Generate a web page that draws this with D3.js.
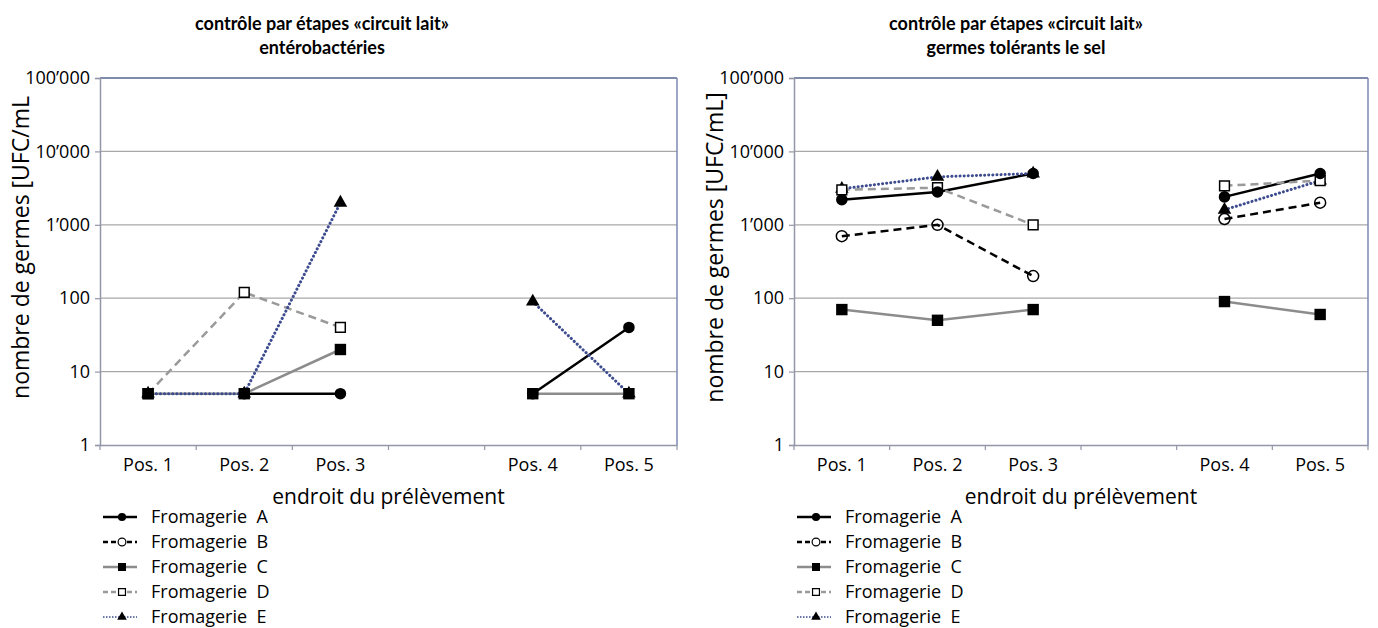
<!DOCTYPE html>
<html>
<head>
<meta charset="utf-8">
<script src="https://cdn.jsdelivr.net/npm/d3@7"></script>
<style>
  body { margin: 0; background: #fff; }
  svg text { font-family: "Open Sans", "Noto Sans", sans-serif; fill: #000; }
</style>
</head>
<body>
<svg id="chart" width="1378" height="628"></svg>
<script>
// categories (4th slot is the empty gap between Pos. 3 and Pos. 4)
const categories = ["Pos. 1", "Pos. 2", "Pos. 3", "", "Pos. 4", "Pos. 5"];
const seriesNames = ["Fromagerie  A", "Fromagerie  B", "Fromagerie  C", "Fromagerie  D", "Fromagerie  E"];
const yTicks = [1, 10, 100, 1000, 10000, 100000];

// entérobactéries [UFC/mL]
const enteroA = [null, 5, 5, null, 5, 40];
const enteroB = [null, null, null, null, null, null];
const enteroC = [5, 5, 20, null, 5, 5];
const enteroD = [5, 120, 40, null, null, null];
const enteroE = [5, 5, 2000, null, 90, 5];

// germes tolérants le sel [UFC/mL]
const selA = [2200, 2800, 5000, null, 2400, 5000];
const selB = [700, 1000, 200, null, 1200, 2000];
const selC = [70, 50, 70, null, 90, 60];
const selD = [3000, 3200, 1000, null, 3400, 4000];
const selE = [3100, 4500, 5000, null, 1600, 4000];

const fmt = d3.formatLocale({decimal: ".", thousands: "\u2019", grouping: [3], currency: ["", ""]}).format(",");

// line + marker style per series
const styles = [
  {stroke: "#000", dash: null, width: 2.5, cap: "butt", symbol: d3.symbolCircle, size: 105, fill: "#000", mstroke: "none"},
  {stroke: "#000", dash: "8,5", width: 2.5, cap: "butt", symbol: d3.symbolCircle, size: 95, fill: "none", mstroke: "#000"},
  {stroke: "#8c8c8c", dash: null, width: 2.5, cap: "butt", symbol: d3.symbolSquare, size: 130, fill: "#000", mstroke: "none"},
  {stroke: "#9a9a9a", dash: "8,5", width: 2.5, cap: "butt", symbol: d3.symbolSquare, size: 95, fill: "#fff", mstroke: "#000"},
  {stroke: "#3d4b8f", dash: "0.1,4", width: 3, cap: "round", symbol: d3.symbolTriangle, size: 80, fill: "#000", mstroke: "none"}
];

const svg = d3.select("#chart");

function drawPanel(opts) {
  const top = 78, bottom = 445;
  const x = d3.scaleBand().domain(d3.range(categories.length)).range([opts.left, opts.right]);
  const y = d3.scaleLog().domain([1, 100000]).range([bottom, top]);
  const g = svg.append("g");

  // gridlines
  g.selectAll("line.grid")
    .data(yTicks.slice(1, -1))
    .enter().append("line")
      .attr("x1", opts.left).attr("x2", opts.right)
      .attr("y1", d => y(d)).attr("y2", d => y(d))
      .attr("stroke", "#a8a8a8").attr("stroke-width", 1.3);

  // plot border top / right
  g.append("line").attr("x1", opts.left).attr("x2", opts.right).attr("y1", top).attr("y2", top)
    .attr("stroke", "#56648f").attr("stroke-width", 1.5);
  g.append("line").attr("x1", opts.right).attr("x2", opts.right).attr("y1", top).attr("y2", bottom)
    .attr("stroke", "#7d88b3").attr("stroke-width", 1.5);

  // y axis
  const yAxis = d3.axisLeft(y).tickValues(yTicks).tickFormat(fmt).tickSize(5).tickPadding(5);
  const yG = g.append("g").attr("transform", "translate(" + opts.left + ",0)").call(yAxis);
  yG.select(".domain").attr("stroke", "#9296a8").attr("stroke-width", 1.5);
  yG.selectAll(".tick line").attr("stroke", "#9296a8").attr("stroke-width", 1.2);
  yG.selectAll("text").style("font-size", "18px").style("font-family", "'Open Sans', sans-serif").attr("fill", "#000");

  // x axis
  const xAxis = d3.axisBottom(x).tickSize(0).tickFormat(i => categories[i]).tickPadding(13);
  const xG = g.append("g").attr("transform", "translate(0," + bottom + ")").call(xAxis);
  xG.select(".domain").attr("stroke", "#9296a8").attr("stroke-width", 1.5);
  xG.selectAll("text").style("font-size", "18px").style("font-family", "'Open Sans', sans-serif").attr("fill", "#000");
  xG.selectAll("line.sep")
    .data(d3.range(categories.length + 1))
    .enter().append("line")
      .attr("x1", i => opts.left + i * x.step()).attr("x2", i => opts.left + i * x.step())
      .attr("y1", 0).attr("y2", 5)
      .attr("stroke", "#9296a8").attr("stroke-width", 1.2);

  // titles
  const title = g.append("text").attr("text-anchor", "middle")
    .style("font-family", "Lato, 'Open Sans', sans-serif")
    .style("font-size", "18px").style("font-weight", "bold");
  title.append("tspan").attr("x", opts.left + 222).attr("y", 30).text("contrôle par étapes «circuit lait»");
  title.append("tspan").attr("x", opts.left + 222).attr("y", 54).text(opts.title);

  g.append("text")
    .attr("transform", "rotate(-90)")
    .attr("x", -(top + bottom) / 2 + 14)
    .attr("y", opts.left - 71)
    .attr("text-anchor", "middle")
    .style("font-size", "23px")
    .text(opts.yTitle);

  g.append("text")
    .attr("x", (opts.left + opts.right) / 2)
    .attr("y", 504)
    .attr("text-anchor", "middle")
    .style("font-size", "21px")
    .text("endroit du prélèvement");

  // series lines (A below ... E on top)
  const line = d3.line()
    .defined(d => d.v != null)
    .x(d => x(d.i) + x.bandwidth() / 2)
    .y(d => y(d.v));

  const series = opts.data.map(arr => arr.map((v, i) => ({i: i, v: v})));

  g.selectAll("path.series")
    .data(series)
    .enter().append("path")
      .attr("class", "series")
      .attr("d", line)
      .attr("fill", "none")
      .attr("stroke", (d, k) => styles[k].stroke)
      .attr("stroke-width", (d, k) => styles[k].width)
      .attr("stroke-dasharray", (d, k) => styles[k].dash)
      .attr("stroke-linecap", (d, k) => styles[k].cap);

  // markers, drawn E first so A ends on top
  d3.range(series.length).reverse().forEach(k => {
    const st = styles[k];
    g.selectAll("path.m" + k)
      .data(series[k].filter(d => d.v != null))
      .enter().append("path")
        .attr("class", "m" + k)
        .attr("transform", d => "translate(" + (x(d.i) + x.bandwidth() / 2) + "," + y(d.v) + ")")
        .attr("d", d3.symbol().type(st.symbol).size(st.size))
        .attr("fill", st.fill)
        .attr("stroke", st.mstroke)
        .attr("stroke-width", 1.5);
  });

  // legend
  const lg = g.append("g").attr("transform", "translate(" + (opts.left + 3) + ",517)");
  const rows = lg.selectAll("g.row")
    .data(seriesNames)
    .enter().append("g")
      .attr("transform", (d, k) => "translate(0," + (k * 25) + ")");
  rows.append("line")
    .attr("x1", 0).attr("x2", 34).attr("y1", 0).attr("y2", 0)
    .attr("stroke", (d, k) => styles[k].stroke)
    .attr("stroke-width", (d, k) => k === 4 ? 1.6 : styles[k].width)
    .attr("stroke-dasharray", (d, k) => k === 4 ? "1.5,1.5" : (styles[k].dash ? "5,3" : null));
  rows.append("path")
    .attr("transform", "translate(19,0)")
    .attr("d", (d, k) => d3.symbol().type(styles[k].symbol).size(styles[k].size * 0.5)())
    .attr("fill", (d, k) => styles[k].fill === "none" ? "#fff" : styles[k].fill)
    .attr("stroke", (d, k) => styles[k].mstroke)
    .attr("stroke-width", 1.2);
  rows.append("text")
    .attr("x", 48).attr("y", 5.5)
    .style("font-size", "18px")
    .style("white-space", "pre")
    .text(d => d);
}

drawPanel({
  left: 100, right: 677,
  title: "entérobactéries",
  yTitle: "nombre de germes [UFC/mL",
  data: [enteroA, enteroB, enteroC, enteroD, enteroE]
});

drawPanel({
  left: 794, right: 1368,
  title: "germes tolérants le sel",
  yTitle: "nombre de germes [UFC/mL]",
  data: [selA, selB, selC, selD, selE]
});
</script>
</body>
</html>
